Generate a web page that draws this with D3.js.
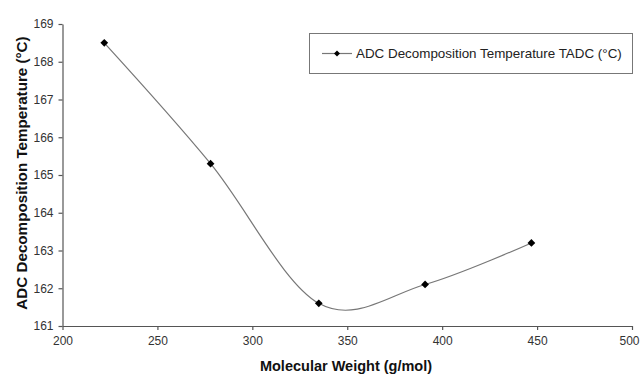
<!DOCTYPE html>
<html>
<head>
<meta charset="utf-8">
<script src="https://cdn.jsdelivr.net/npm/d3@7"></script>
<style>
  body { margin: 0; background: #fff; }
  svg { display: block; font-family: "Liberation Sans", Arial, sans-serif; }
</style>
</head>
<body>
<svg id="chart" width="641" height="375"></svg>
<script>
// Molecular weight of each sample (g/mol) and its ADC decomposition temperature (°C)
const molecularWeight = [222, 278, 335, 391, 447];
const decompTemp = [168.5, 165.3, 161.6, 162.1, 163.2];
const xTicks = [200, 250, 300, 350, 400, 450, 500];
const yTicks = [161, 162, 163, 164, 165, 166, 167, 168, 169];

const svg = d3.select("#chart");
const margin = { left: 62.5, right: 9, top: 24, bottom: 49 };
const W = 641, H = 375;

const x = d3.scaleLinear().domain([200, 500]).range([margin.left, W - margin.right]);
const y = d3.scaleLinear().domain([161, 169]).range([H - margin.bottom, margin.top]);

// Axes
const xAxis = svg.append("g")
  .attr("transform", `translate(0,${y(161)})`)
  .call(d3.axisBottom(x).tickValues(xTicks).tickSize(4).tickSizeOuter(0).tickPadding(6));
const yAxis = svg.append("g")
  .attr("transform", `translate(${x(200)},0)`)
  .call(d3.axisLeft(y).tickValues(yTicks).tickSize(4).tickSizeOuter(0).tickPadding(5));

[xAxis, yAxis].forEach(g => {
  g.select(".domain").attr("stroke", "#555").attr("stroke-width", 1.2);
  g.selectAll(".tick line").attr("stroke", "#555").attr("stroke-width", 1.2);
  g.selectAll(".tick text").attr("fill", "#333").style("font-size", "12px")
    .style("font-family", "'Liberation Sans', Arial, sans-serif");
});
// keep the last x label inside the canvas
xAxis.selectAll(".tick text").filter(d => d === 500).attr("dx", "-3");

// Smoothed series line
const pts = molecularWeight.map((m, i) => [m, decompTemp[i]]);
svg.append("path")
  .datum(pts)
  .attr("fill", "none")
  .attr("stroke", "#777")
  .attr("stroke-width", 1.2)
  .attr("d", d3.line().x(d => x(d[0])).y(d => y(d[1])).curve(d3.curveCardinal.tension(0)));

// Diamond markers (square rotated 45°)
const diamond = d3.symbol().type(d3.symbolSquare).size(30);
svg.append("g").selectAll("path")
  .data(pts)
  .join("path")
  .attr("transform", d => `translate(${x(d[0])},${y(d[1])}) rotate(45)`)
  .attr("d", diamond)
  .attr("fill", "#000");

// Axis titles
svg.append("text")
  .attr("x", 346).attr("y", 371)
  .attr("text-anchor", "middle")
  .style("font-size", "14.5px").style("font-weight", "bold")
  .attr("fill", "#111")
  .text("Molecular Weight (g/mol)");

svg.append("text")
  .attr("transform", `translate(27,173) rotate(-90)`)
  .attr("text-anchor", "middle")
  .style("font-size", "15.2px").style("font-weight", "bold")
  .attr("fill", "#111")
  .text("ADC Decomposition Temperature (°C)");

// Legend
const lg = svg.append("g");
lg.append("rect")
  .attr("x", 309.5).attr("y", 33.5).attr("width", 323).attr("height", 40)
  .attr("fill", "#fff").attr("stroke", "#777").attr("stroke-width", 1);
lg.append("line")
  .attr("x1", 322).attr("x2", 352).attr("y1", 53.5).attr("y2", 53.5)
  .attr("stroke", "#777").attr("stroke-width", 1.2);
lg.append("path")
  .attr("transform", "translate(337,53.5) rotate(45)")
  .attr("d", d3.symbol().type(d3.symbolSquare).size(18))
  .attr("fill", "#000");
lg.append("text")
  .attr("x", 356).attr("y", 58)
  .style("font-size", "13.4px").attr("fill", "#222")
  .text("ADC Decomposition Temperature TADC (°C)");
</script>
</body>
</html>
